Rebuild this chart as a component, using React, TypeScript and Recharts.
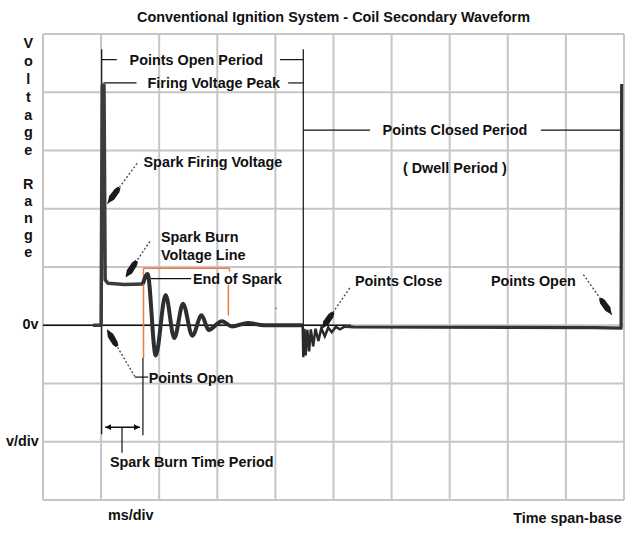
import {
  Line,
  LineChart,
  ReferenceDot,
  ReferenceLine,
  XAxis,
  YAxis,
} from "recharts"

// grid divisions: time (ms/div) across, voltage (v/div) up, 0v on the 4th line from the bottom
const xTicks = [0, 1, 2, 3, 4, 5, 6, 7, 8, 9, 10]
const yTicks = [-3, -2, -1, 0, 1, 2, 3, 4, 5]

// points open -> firing voltage spike -> spark burn line
const firingTrace = [
  { t: 0.86, v: 0 },
  { t: 1.0, v: 0 },
  { t: 1.02, v: 4.12 },
  { t: 1.05, v: 4.12 },
  { t: 1.07, v: 0.78 },
  { t: 1.12, v: 0.72 },
  { t: 1.4, v: 0.7 },
  { t: 1.72, v: 0.71 },
]

// coil oscillations after the end of spark
const ringTrace = [
  { t: 1.72, v: 0.71 },
  { t: 1.8, v: 0.88 },
  { t: 1.94, v: -0.52 },
  { t: 2.11, v: 0.52 },
  { t: 2.26, v: -0.22 },
  { t: 2.41, v: 0.37 },
  { t: 2.57, v: -0.18 },
  { t: 2.73, v: 0.17 },
  { t: 2.85, v: -0.08 },
  { t: 3.08, v: 0.07 },
  { t: 3.25, v: -0.02 },
  { t: 3.53, v: 0.04 },
  { t: 3.8, v: 0 },
  { t: 4.47, v: 0 },
]

// points close ripple
const closeTrace = [
  { t: 4.47, v: 0 },
  { t: 4.48, v: -0.55 },
  { t: 4.5, v: -0.06 },
  { t: 4.52, v: -0.52 },
  { t: 4.55, v: -0.08 },
  { t: 4.58, v: -0.45 },
  { t: 4.61, v: -0.07 },
  { t: 4.65, v: -0.36 },
  { t: 4.69, v: -0.06 },
  { t: 4.74, v: -0.27 },
  { t: 4.79, v: -0.05 },
  { t: 4.85, v: -0.19 },
  { t: 4.91, v: -0.04 },
  { t: 4.97, v: -0.12 },
  { t: 5.04, v: -0.03 },
  { t: 5.11, v: -0.07 },
  { t: 5.2, v: -0.02 },
]

// dwell period, then points open again
const dwellTrace = [
  { t: 5.2, v: -0.02 },
  { t: 5.35, v: -0.03 },
  { t: 9.5, v: -0.04 },
  { t: 9.95, v: -0.05 },
  { t: 9.96, v: 4.14 },
]

// [x1, y1, x2, y2] in divisions
const blackLines = [
  [1.01, 4.74, 1.01, -1.87],
  [4.48, 4.74, 4.48, 0],
  [1.0, 4.56, 1.27, 4.56],
  [4.08, 4.56, 4.48, 4.56],
  [1.04, 4.16, 1.61, 4.16],
  [4.22, 4.16, 4.48, 4.16],
  [4.48, 3.35, 5.63, 3.35],
  [8.57, 3.35, 9.97, 3.35],
  [1.85, 0.8, 2.55, 0.8],
  [1.58, -0.89, 1.81, -0.89],
  [1.72, -0.56, 1.72, -1.89],
  [1.36, -1.75, 1.36, -2.19],
]

const orangeLines = [
  [1.73, 0.98, 3.21, 0.98],
  [1.73, 0.98, 1.73, -0.56],
  [3.21, 0.98, 3.21, 0.92],
  [3.19, 0.7, 3.19, 0.17],
  [3.99, 0.29, 4.03, 0.29],
]

// dashed pointer arrows: tail -> tip
const arrows = [
  [1.62, 2.78, 1.11, 2.09],
  [1.84, 1.44, 1.42, 0.82],
  [1.58, -0.88, 1.1, -0.07],
  [5.28, 0.64, 4.8, -0.06],
  [9.3, 0.87, 9.79, 0.18],
]

const spanArrow = [1.07, -1.75, 1.67, -1.75]

const centerLabels = [
  { text: "Points Open Period", x: 2.64, y: 4.56 },
  { text: "Firing Voltage Peak", x: 2.94, y: 4.16 },
  { text: "Points Closed Period", x: 7.09, y: 3.35 },
  { text: "( Dwell Period )", x: 7.09, y: 2.71 },
  { text: "Spark Burn Time Period", x: 2.56, y: -2.34 },
]

const leftLabels = [
  { text: "Spark Firing Voltage", x: 1.73, y: 2.81 },
  { text: "Spark Burn", x: 2.03, y: 1.51 },
  { text: "Voltage Line", x: 2.03, y: 1.21 },
  { text: "End of Spark", x: 2.58, y: 0.79 },
  { text: "Points Open", x: 1.82, y: -0.91 },
  { text: "Points Close", x: 5.37, y: 0.77 },
  { text: "Points Open", x: 7.71, y: 0.76 },
]

const title = "Conventional Ignition System - Coil Secondary Waveform"
const voltageLetters = ["V", "o", "l", "t", "a", "g", "e"]
const rangeLetters = ["R", "a", "n", "g", "e"]

const font = '"Liberation Sans", Arial, Helvetica, sans-serif'
const textStyle = { fontFamily: font, fontSize: 14.4, fontWeight: 700, fill: "#111" }
const gridColor = "#c6c6c6"

export default function App() {
  return (
    <div style={{ position: "absolute", left: 0, top: 0, width: 630, height: 536, background: "#fff" }}>
      <LineChart width={630} height={536} margin={{ top: 34, right: 6, bottom: 36, left: 43 }}>
        <XAxis type="number" dataKey="t" domain={[0, 10]} ticks={xTicks} hide />
        <YAxis type="number" domain={[-3, 5]} ticks={yTicks} hide />

        {/* scope graticule */}
        {xTicks.map((t) => (
          <ReferenceLine key={"gx" + t} x={t} stroke={gridColor} strokeWidth={2} ifOverflow="visible" />
        ))}
        {yTicks.map((t) => (
          <ReferenceLine key={"gy" + t} y={t} stroke={gridColor} strokeWidth={2} ifOverflow="visible" />
        ))}

        <ReferenceLine segment={[{ x: 0, y: 0 }, { x: 5.3, y: 0 }]} stroke="#111" strokeWidth={1.3} />

        {orangeLines.map((s, i) => (
          <ReferenceLine
            key={"o" + i}
            segment={[{ x: s[0], y: s[1] }, { x: s[2], y: s[3] }]}
            stroke="#f07a3c"
            strokeWidth={1.5}
          />
        ))}
        {blackLines.map((s, i) => (
          <ReferenceLine
            key={"b" + i}
            segment={[{ x: s[0], y: s[1] }, { x: s[2], y: s[3] }]}
            stroke="#111"
            strokeWidth={1.2}
          />
        ))}
        {arrows.map((s, i) => (
          <ReferenceLine
            key={"a" + i}
            segment={[{ x: s[0], y: s[1] }, { x: s[2], y: s[3] }]}
            stroke="#444"
            strokeWidth={1.3}
            strokeDasharray="2 2"
            markerEnd="url(#cone)"
          />
        ))}
        <ReferenceLine
          segment={[{ x: spanArrow[0], y: spanArrow[1] }, { x: spanArrow[2], y: spanArrow[3] }]}
          stroke="#111"
          strokeWidth={1.5}
          markerStart="url(#tri)"
          markerEnd="url(#tri)"
        />

        <Line data={firingTrace} dataKey="v" type="linear" stroke="#3c3c3c" strokeWidth={3.5}
          dot={false} activeDot={false} isAnimationActive={false} strokeLinejoin="round" />
        <Line data={ringTrace} dataKey="v" type="monotone" stroke="#2e2e2e" strokeWidth={4}
          dot={false} activeDot={false} isAnimationActive={false} />
        <Line data={closeTrace} dataKey="v" type="linear" stroke="#2a2a2a" strokeWidth={2.5}
          dot={false} activeDot={false} isAnimationActive={false} />
        <Line data={dwellTrace} dataKey="v" type="linear" stroke="#333" strokeWidth={3.2}
          dot={false} activeDot={false} isAnimationActive={false} strokeLinejoin="round" />

        {centerLabels.map((l, i) => (
          <ReferenceDot key={"c" + i} x={l.x} y={l.y} r={0} fill="none" stroke="none" ifOverflow="visible"
            label={{ value: l.text, position: "center", ...textStyle }} />
        ))}
        {leftLabels.map((l, i) => (
          <ReferenceDot key={"l" + i} x={l.x} y={l.y} r={0} fill="none" stroke="none" ifOverflow="visible"
            label={{ value: l.text, position: "right", offset: 0, ...textStyle }} />
        ))}
      </LineChart>

      <svg width={630} height={536} style={{ position: "absolute", left: 0, top: 0, pointerEvents: "none" }}>
        <defs>
          <marker id="cone" markerUnits="userSpaceOnUse" viewBox="0 0 20 9" markerWidth={20} markerHeight={9}
            refX={20} refY={4.5} orient="auto">
            <path d="M0,3 L4,1.6 L13,1.4 L20,4.5 L13,7.6 L4,7.4 L0,6 Z" fill="#1a1a1a" />
          </marker>
          <marker id="tri" markerUnits="userSpaceOnUse" viewBox="0 0 6 6" markerWidth={6} markerHeight={6}
            refX={6} refY={3} orient="auto-start-reverse">
            <path d="M0,0 L6,3 L0,6 Z" fill="#111" />
          </marker>
        </defs>
        <text x={333.5} y={21.7} textAnchor="middle" style={textStyle}>{title}</text>
        {voltageLetters.map((c, i) => (
          <text key={"v" + i} x={28.3} y={48.3 + i * 17.8} textAnchor="middle" style={textStyle}>{c}</text>
        ))}
        {rangeLetters.map((c, i) => (
          <text key={"r" + i} x={28.3} y={188.5 + i * 17.2} textAnchor="middle" style={textStyle}>{c}</text>
        ))}
        <text x={38.5} y={328.5} textAnchor="end" style={textStyle}>0v</text>
        <text x={6} y={446} style={textStyle}>v/div</text>
        <text x={108} y={519.5} style={textStyle}>ms/div</text>
        <text x={621.7} y={523.3} textAnchor="end" style={textStyle}>Time span-base</text>
      </svg>
    </div>
  )
}
